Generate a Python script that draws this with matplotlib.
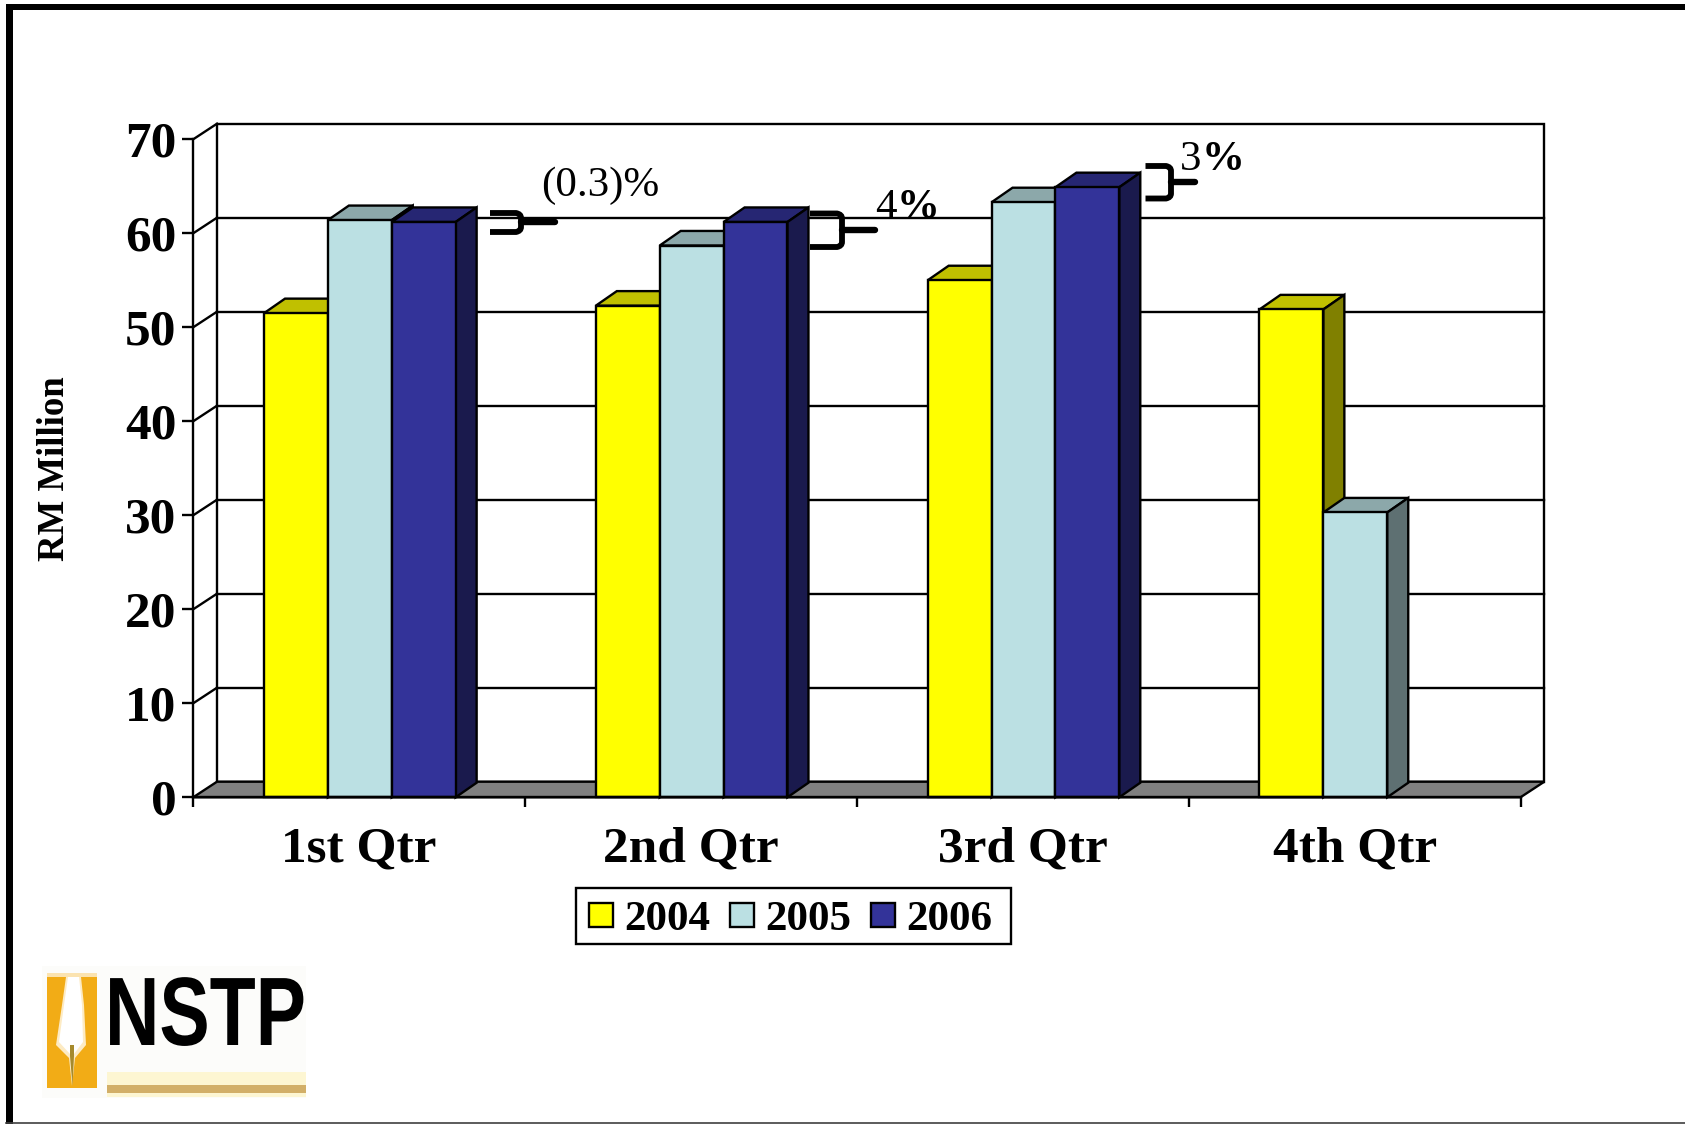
import numpy as np
import matplotlib
matplotlib.use("Agg")
import matplotlib.pyplot as plt
from matplotlib.patches import Polygon, Rectangle, Patch, PathPatch
from matplotlib.path import Path
from matplotlib.patheffects import AbstractPathEffect
from matplotlib.transforms import Affine2D

W, H = 1685, 1124

# ---- data ----
quarters = ["1st Qtr", "2nd Qtr", "3rd Qtr", "4th Qtr"]
years = ["2004", "2005", "2006"]
v2004 = [51.5, 52.3, 55.0, 51.9]
v2005 = [61.4, 58.7, 63.3, 30.3]
v2006 = [61.2, 61.2, 64.9, np.nan]
y_ticks = [0, 10, 20, 30, 40, 50, 60, 70]
ylabel = "RM Million"

# ---- styles ----
serif = "Liberation Serif"
front_col = ["#FFFF00", "#BBE0E3", "#333399"]
side_col = ["#808000", "#5E7072", "#1A1A4D"]
top_col = ["#C0C000", "#8CA8AA", "#262673"]
LW = 1.7
TICK_FS = 37

fig = plt.figure(figsize=(W / 100, H / 100), dpi=100, facecolor="white")
L, R, B, T = 193.2, 1520.5, 797.3, 139.3
ax = fig.add_axes([L / W, 1 - B / H, (R - L) / W, (B - T) / H], facecolor="none")
ax.set_xlim(0, 4)
ax.set_ylim(0, 70)
for s in ("top", "right"):
    ax.spines[s].set_visible(False)
for s in ("left", "bottom"):
    ax.spines[s].set_linewidth(LW)
    ax.spines[s].set_zorder(30)

# depth of the wall / bars in data units
DX, DY = 23.8 / 331.8, 1.66
BX, BY = 21 / 331.8, 1.55
OFF, BW = 0.2134, 0.1925

# back wall, grid, floor
ax.add_patch(Rectangle((DX, DY), 4, 70, fc="white", ec="black", lw=LW, zorder=1, clip_on=False))
for v in y_ticks[1:-1]:
    ax.plot([DX, 4 + DX], [v + DY, v + DY], color="black", lw=LW, zorder=2, clip_on=False)
for v in y_ticks[1:]:
    ax.plot([0, DX], [v, v + DY], color="black", lw=LW, zorder=2, clip_on=False)
ax.add_patch(Polygon([(0, 0), (4, 0), (4 + DX, DY), (DX, DY)], closed=True, fc="#808080",
                     ec="black", lw=LW, zorder=3, clip_on=False))

# bars
z = 4
for i, vals in enumerate([v2004, v2005, v2006]):
    for q, v in enumerate(vals):
        if np.isnan(v):
            continue
        x0 = q + OFF + i * BW
        x1 = x0 + BW
        ax.add_patch(Polygon([(x0, v), (x1, v), (x1 + BX, v + BY), (x0 + BX, v + BY)], closed=True,
                             fc=top_col[i], ec="black", lw=LW, zorder=z, clip_on=False))
        ax.add_patch(Polygon([(x1, 0), (x1 + BX, BY), (x1 + BX, v + BY), (x1, v)], closed=True,
                             fc=side_col[i], ec="black", lw=LW, zorder=z, clip_on=False))
        ax.bar(x0, v, width=BW, align="edge", color=front_col[i], edgecolor="black",
               linewidth=LW, zorder=z + 0.5, clip_on=False)
    z += 1

# axis ticks
ax.set_yticks(y_ticks)
ax.set_yticklabels([str(t) for t in y_ticks], fontfamily=serif, fontweight="bold", fontsize=TICK_FS)
ax.tick_params(axis="y", length=7.7, width=LW, pad=4.5)
ax.set_xticks(range(5))
ax.set_xticklabels([""] * 5)
ax.tick_params(axis="x", which="major", length=7.2, width=LW)
ax.set_xticks(np.arange(4) + 0.5, minor=True)
ax.set_xticklabels(quarters, minor=True, fontfamily=serif, fontweight="bold", fontsize=TICK_FS)
ax.tick_params(axis="x", which="minor", length=0, pad=21)

# overlay in pixel coordinates for frame, logo, annotations
ov = fig.add_axes([0, 0, 1, 1], facecolor="none", zorder=5)
ov.set_xlim(0, W)
ov.set_ylim(H, 0)
ov.axis("off")

# legend: box drawn separately so its padding can differ per direction
ov.add_patch(Rectangle((575.6, 887.7), 435.4, 56.6, fc="white", ec="black", lw=LW, zorder=1))
handles = [Patch(fc=c, ec="black", lw=LW, label=y) for c, y in zip(front_col, years)]
leg = ov.legend(handles=handles, loc="upper left", bbox_to_anchor=(588.5, 901.5),
                bbox_transform=ov.transData, ncol=3, frameon=False, borderaxespad=0, borderpad=0,
                handlelength=0.56, handleheight=0.5, handletextpad=0.26, columnspacing=0.46,
                prop={"family": serif, "weight": "bold", "size": 31})
leg.set_zorder(2)

# page frame
ov.add_patch(Rectangle((6, 3.5), W, 6, fc="black", ec="none"))
ov.add_patch(Rectangle((6, 3.5), 6.5, H, fc="black", ec="none"))
ov.plot([6, W], [1122.8, 1122.8], color="#404040", lw=1.2)

# axis title
ov.text(55, 468.5, ylabel, rotation=90, ha="center", va="center", fontfamily=serif,
        fontweight="bold", fontsize=26.5)


# change brackets and labels
def bracket(xs, xc, y0, y1, ym, xe):
    verts = [(xs, y0), (xc - 5, y0), (xc, y0 + 1), (xc, y0 + 5), (xc, y1 - 5), (xc, y1 - 1), (xc - 5, y1), (xs, y1)]
    codes = [Path.MOVETO, Path.LINETO, Path.CURVE3, Path.CURVE3, Path.LINETO, Path.CURVE3, Path.CURVE3, Path.LINETO]
    ov.add_patch(PathPatch(Path(verts, codes), fc="none", ec="black", lw=4.2, capstyle="butt"))
    ov.plot([xc, xe], [ym, ym], color="black", lw=4.6, solid_capstyle="round")


bracket(490, 521, 213, 232, 222, 555)
bracket(810, 842, 213.5, 247, 230, 875)
bracket(1145.5, 1171, 166, 198.5, 182, 1195)

NOTE = 31
ov.text(541, 195.7, "(0.3)%", fontfamily=serif, fontsize=NOTE, va="baseline")
ov.text(875, 218, "4", fontfamily=serif, fontsize=NOTE, va="baseline")
ov.text(897, 218, "%", fontfamily=serif, fontweight="bold", fontsize=NOTE, va="baseline")
ov.text(1180, 170, "3", fontfamily=serif, fontsize=NOTE, va="baseline")
ov.text(1202, 170, "%", fontfamily=serif, fontweight="bold", fontsize=NOTE, va="baseline")


# publisher logo
class SqueezeX(AbstractPathEffect):
    """Narrow the drawn glyphs horizontally about a pixel x (the font has no narrow cut)."""
    def __init__(self, sx, x0):
        super().__init__()
        self.sx, self.x0 = sx, x0

    def draw_path(self, renderer, gc, tpath, affine, rgbFace=None):
        t = affine + Affine2D().translate(-self.x0, 0).scale(self.sx, 1).translate(self.x0, 0)
        renderer.draw_path(gc, tpath, t, rgbFace)


ov.add_patch(Rectangle((42, 966), 264, 132, fc="#FCFCFA", ec="none", zorder=1))
ov.add_patch(Rectangle((47, 973), 50, 6, fc="#FBE3B0", ec="none", zorder=2))
ov.add_patch(Rectangle((47, 977), 50, 111, fc="#F2AC16", ec="none", zorder=2))
ov.add_patch(Polygon([(66, 977), (81, 977), (84, 1005), (86, 1045), (75, 1058), (72, 1086), (69, 1058),
                      (56, 1045), (62, 1005)], closed=True, fc="#FDEBC4", ec="none", zorder=3))
ov.add_patch(Polygon([(68, 977), (79, 977), (82, 1005), (83, 1042), (74, 1054), (72, 1060), (70, 1054),
                      (59, 1042), (64, 1005)], closed=True, fc="#FFFFFF", ec="none", zorder=3))
ov.add_patch(Polygon([(70, 1045), (74, 1045), (74, 1056), (72.5, 1086), (70, 1056)], closed=True,
                     fc="#A68A2C", ec="none", zorder=4))
ov.add_patch(Rectangle((107, 1072), 199, 25, fc="#FDF6D2", ec="none", zorder=2))
ov.add_patch(Rectangle((107, 1085), 199, 8, fc="#D2AF68", ec="none", zorder=3))
ov.text(105, 1045, "NSTP", fontfamily="Liberation Sans", fontweight="bold", fontsize=70,
        va="baseline", color="black", zorder=5, path_effects=[SqueezeX(0.775, 105)])

fig.savefig("out.png", dpi=100, facecolor="white")
